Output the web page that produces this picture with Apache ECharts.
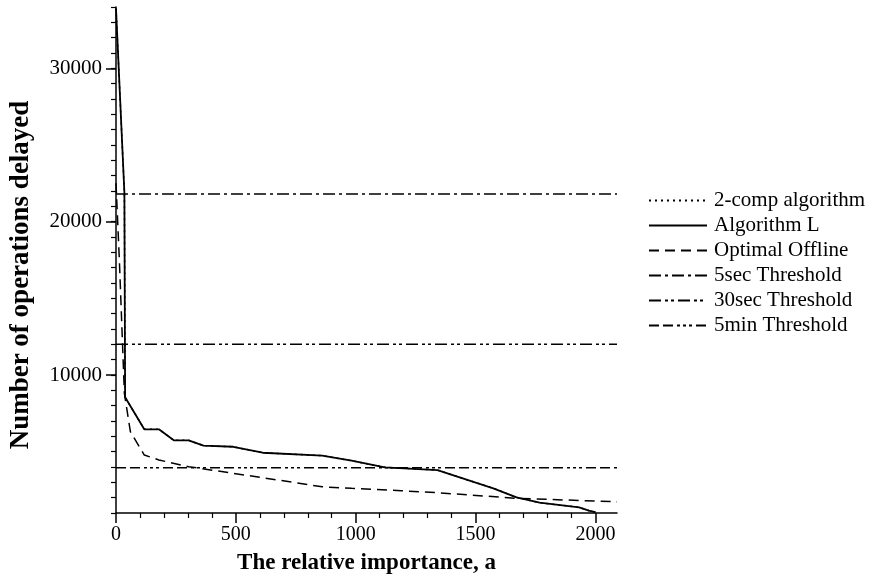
<!DOCTYPE html>
<html>
<head>
<meta charset="utf-8">
<script src="https://cdn.jsdelivr.net/npm/echarts@6/dist/echarts.min.js"></script>
<style>
  html, body { margin: 0; padding: 0; background: #fff; }
  #chart { width: 874px; height: 585px; }
</style>
</head>
<body>
<div id="chart"></div>
<script>
// values
const algLX = [0, 35, 38, 118, 179, 241, 303, 365, 489, 612, 860, 983, 1121, 1341, 1574, 1671, 1767, 1932, 1973, 2000];
const algLY = [33900, 21900, 8550, 6460, 6460, 5740, 5740, 5390, 5320, 4930, 4740, 4410, 3980, 3800, 2610, 2020, 1670, 1370, 1150, 1050];

// 2-comp (dotted) runs under Algorithm L in the picture
const twoCompX = [0, 35, 38, 118, 179, 241, 303, 365, 489, 612, 860, 983, 1121, 1341, 1574, 1671, 1767, 1932, 1973, 2000];
const twoCompY = [33900, 21900, 8550, 6460, 6460, 5740, 5740, 5390, 5320, 4930, 4740, 4410, 3980, 3800, 2610, 2020, 1670, 1370, 1150, 1050];

const optX = [0, 14, 35, 60, 118, 179, 303, 489, 860, 983, 1190, 1341, 1671, 2090];
const optY = [22500, 17500, 8800, 6300, 4780, 4460, 4020, 3590, 2710, 2610, 2450, 2320, 1960, 1730];

const thresholdX = [0, 2090];
const sec5 = 21800;
const sec30 = 12000;
const min5 = 3950;

const xTicks = [0, 500, 1000, 1500, 2000];
const yTicks = [10000, 20000, 30000];

const xMinor = [];
for (let v = 100; v <= 2000; v += 100) if (v % 500 !== 0) xMinor.push(v);

const font = "Liberation Serif";
const pairs = (xs, ys) => xs.map((x, i) => [x, ys[i]]);
const flat = (xs, v) => xs.map((x) => [x, v]);
const plain = (v) => String(v);

const mkLine = (name, data, type, width) => ({
  name: name,
  type: "line",
  data: data,
  symbol: "none",
  silent: true,
  animation: false,
  color: "#000",
  lineStyle: { color: "#000", width: width || 1.5, type: type },
});

const chart = echarts.init(document.getElementById("chart"));
chart.setOption({
  animation: false,
  grid: { left: 111, right: 257, top: 7, bottom: 72, containLabel: false },
  legend: {
    orient: "vertical",
    left: 643,
    top: 185,
    itemWidth: 58,
    itemHeight: 14,
    itemGap: 4,
    selectedMode: false,
    itemStyle: { opacity: 0, borderWidth: 0 },
    textStyle: { fontFamily: font, fontSize: 21, color: "#000", padding: [0, 0, 0, 2] },
    data: ["2-comp algorithm", "Algorithm L", "Optimal Offline", "5sec Threshold", "30sec Threshold", "5min Threshold"],
  },
  xAxis: [
    {
      type: "value",
      position: "bottom",
      min: 0,
      max: 2090,
      name: "The relative importance, a",
      nameLocation: "middle",
      nameGap: 39,
      nameTextStyle: { fontFamily: font, fontSize: 23, fontWeight: "bold", color: "#000" },
      axisLine: { onZero: false, lineStyle: { color: "#000", width: 1.5 } },
      axisTick: { customValues: xTicks, length: 10, lineStyle: { color: "#000", width: 1.5 } },
      axisLabel: { customValues: xTicks, formatter: plain, margin: 12, fontFamily: font, fontSize: 20, color: "#000" },
      splitLine: { show: false },
    },
    {
      type: "value",
      position: "bottom",
      min: 0,
      max: 2090,
      axisLine: { show: false, onZero: false },
      axisTick: { customValues: xMinor, length: 5, lineStyle: { color: "#000", width: 1.2 } },
      axisLabel: { show: false },
      splitLine: { show: false },
    },
  ],
  yAxis: [
    {
      type: "value",
      position: "left",
      min: 1000,
      max: 34000,
      name: "Number of operations delayed",
      nameLocation: "middle",
      nameGap: 81,
      nameTextStyle: { fontFamily: font, fontSize: 27, fontWeight: "bold", color: "#000", padding: [0, 30, 0, 0] },
      axisLine: { onZero: false, lineStyle: { color: "#000", width: 1.5 } },
      axisTick: { customValues: yTicks, length: 10, lineStyle: { color: "#000", width: 1.5 } },
      axisLabel: { customValues: yTicks, formatter: plain, margin: 14, fontFamily: font, fontSize: 21, color: "#000" },
      splitLine: { show: false },
    },
    {
      type: "value",
      position: "left",
      min: 1000,
      max: 34000,
      interval: 1000,
      axisLine: { show: false, onZero: false },
      axisTick: { length: 5, lineStyle: { color: "#000", width: 1.2 } },
      axisLabel: { show: false },
      splitLine: { show: false },
    },
  ],
  series: [
    mkLine("2-comp algorithm", pairs(twoCompX, twoCompY), [2, 4]),
    mkLine("Algorithm L", pairs(algLX, algLY), "solid", 1.8),
    mkLine("Optimal Offline", pairs(optX, optY), [10, 6]),
    mkLine("5sec Threshold", flat(thresholdX, sec5), [12, 4, 3, 4]),
    mkLine("30sec Threshold", flat(thresholdX, sec30), [12, 4, 3, 3, 3, 4]),
    mkLine("5min Threshold", flat(thresholdX, min5), [10, 4, 10, 4, 3, 3, 3, 3, 3, 4]),
  ],
});
</script>
</body>
</html>
